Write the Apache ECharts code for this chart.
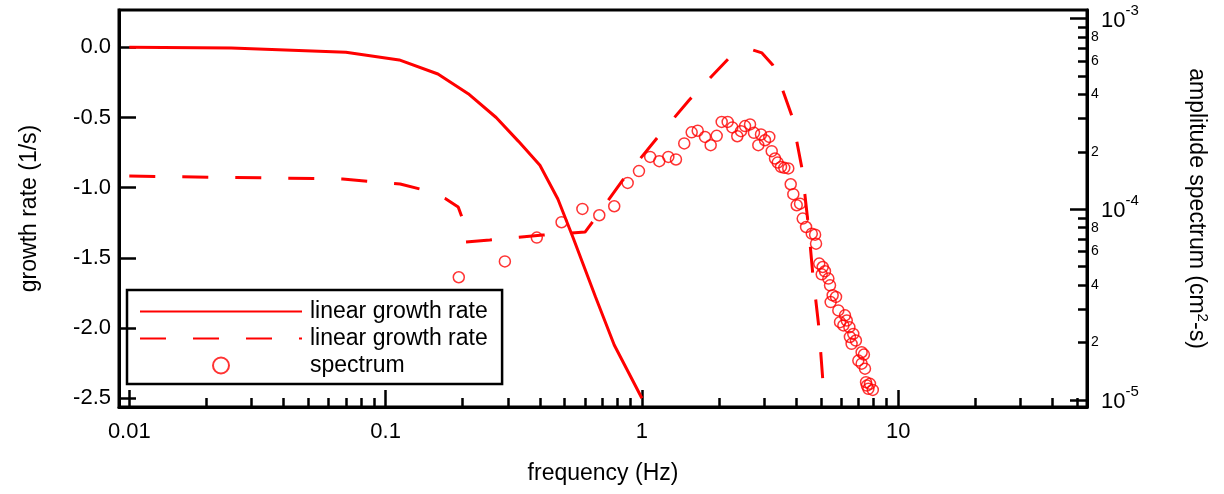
<!DOCTYPE html>
<html>
<head>
<meta charset="utf-8">
<script src="https://cdn.jsdelivr.net/npm/echarts@6/dist/echarts.min.js"></script>
<style>
  html, body { margin: 0; padding: 0; background: #fff; }
  #chart { width: 1224px; height: 494px; }
</style>
</head>
<body>
<div id="chart"></div>
<script>
// solid curve: linear growth rate (1/s) vs frequency (Hz)
const growthFreq = [0.01, 0.025, 0.07, 0.113, 0.16, 0.21, 0.27, 0.33, 0.40, 0.47, 0.54, 0.66, 0.78, 1.0];
const growthRate = [0.0, -0.005, -0.035, -0.09, -0.19, -0.33, -0.5, -0.67, -0.84, -1.08, -1.36, -1.78, -2.12, -2.5];

// dashed curve
const dashFreq = [0.01, 0.068, 0.114, 0.136, 0.172, 0.192, 0.199, 0.204, 0.255, 0.411, 0.60, 0.638, 0.843, 1.146, 1.53, 2.17, 2.71, 2.94, 3.24, 3.55, 3.85, 4.21, 4.48, 4.64, 4.90, 5.08];
const dashRate = [-0.917, -0.938, -0.974, -1.009, -1.08, -1.137, -1.216, -1.387, -1.372, -1.337, -1.316, -1.25, -0.945, -0.646, -0.375, -0.083, -0.019, -0.04, -0.126, -0.31, -0.49, -0.86, -1.30, -1.61, -1.99, -2.37];

// spectrum points (right axis, cm^2-s)
const specFreq = [0.193, 0.292, 0.389, 0.486, 0.586, 0.682, 0.78, 0.88, 0.974, 1.077, 1.169, 1.268, 1.358, 1.463, 1.564, 1.651,
  1.763, 1.855, 1.958, 2.048, 2.161, 2.253, 2.356, 2.436, 2.526, 2.642, 2.737, 2.846, 2.915, 3.022, 3.141, 3.21, 3.306, 3.387,
  3.489, 3.594, 3.725, 3.807, 3.897, 4.018, 4.14, 4.24, 4.37, 4.60, 4.74, 4.78, 4.92, 5.075, 5.18, 5.03, 5.34, 5.42, 5.55, 5.72,
  5.45, 5.84, 6.20, 5.93, 6.30, 6.11, 6.45, 6.68, 6.48, 6.84, 6.58, 7.20, 7.35, 6.99, 7.20, 7.42, 7.49, 7.76, 7.65, 7.96, 7.55];
const specAmp = [4.40e-5, 5.33e-5, 7.10e-5, 8.55e-5, 1.004e-4, 9.3e-5, 1.037e-4, 1.374e-4, 1.585e-4, 1.88e-4, 1.786e-4, 1.88e-4, 1.824e-4, 2.214e-4, 2.53e-4, 2.58e-4,
  2.395e-4, 2.168e-4, 2.427e-4, 2.87e-4, 2.87e-4, 2.685e-4, 2.415e-4, 2.567e-4, 2.73e-4, 2.785e-4, 2.515e-4, 2.168e-4, 2.466e-4, 2.30e-4, 2.395e-4, 2.016e-4, 1.845e-4, 1.757e-4,
  1.667e-4, 1.648e-4, 1.637e-4, 1.352e-4, 1.20e-4, 1.05e-4, 1.07e-4, 8.93e-5, 8.07e-5, 7.45e-5, 7.36e-5, 6.6e-5, 5.19e-5, 4.98e-5, 4.73e-5, 4.56e-5, 4.33e-5, 3.99e-5, 3.54e-5, 3.47e-5,
  3.26e-5, 2.95e-5, 2.78e-5, 2.56e-5, 2.61e-5, 2.46e-5, 2.41e-5, 2.22e-5, 2.14e-5, 2.05e-5, 1.97e-5, 1.78e-5, 1.73e-5, 1.61e-5, 1.55e-5, 1.46e-5, 1.24e-5, 1.216e-5, 1.145e-5, 1.13e-5, 1.19e-5];

// ticks
const xMajor = [0.01, 0.1, 1, 10];
const yLeftTicks = [0, -0.5, -1.0, -1.5, -2.0, -2.5];
const yRightMajor = [1e-5, 1e-4, 1e-3];
const yRightMinorLabels = [2e-5, 4e-5, 6e-5, 8e-5, 2e-4, 4e-4, 6e-4, 8e-4];

const xMinor = [];
xMajor.forEach(d => { for (let k = 2; k <= 9; k++) xMinor.push(Number((k * d).toPrecision(3))); });
const yRightMinor = [];
[1e-5, 1e-4].forEach(d => { for (let k = 2; k <= 9; k++) yRightMinor.push(Number((k * d).toPrecision(3))); });

const FONT = 'Liberation Sans, Arial, Helvetica, sans-serif';
const RED = '#ff0000';

const chart = echarts.init(document.getElementById('chart'), null, { renderer: 'canvas' });

const xMin = 0.009117, xMax = 54.53;
const yMin = -2.562, yMax = 0.2657;
const rMin = 9.19e-6, rMax = 1.108e-3;

const option = {
  animation: false,
  backgroundColor: '#fff',
  textStyle: { fontFamily: FONT, color: '#000' },
  grid: {
    left: 119, right: 137, top: 10, bottom: 87,
    show: true, borderColor: '#000', borderWidth: 3, backgroundColor: 'transparent'
  },
  legend: {
    orient: 'vertical',
    left: 127, top: 290,
    borderColor: '#000', borderWidth: 2.5,
    padding: [10, 8, 7, 12],
    itemWidth: 162, itemHeight: 16, itemGap: 4,
    textStyle: { fontFamily: FONT, fontSize: 23, color: '#000', padding: [0, 0, 0, 3] },
    data: [
      { name: 'linear growth rate', itemStyle: { opacity: 0 } },
      { name: 'linear growth rate ', itemStyle: { opacity: 0 } },
      { name: 'spectrum' }
    ]
  },
  xAxis: [
    {
      type: 'log', min: xMin, max: xMax, position: 'bottom',
      name: 'frequency (Hz)', nameLocation: 'middle', nameGap: 55,
      nameTextStyle: { fontFamily: FONT, fontSize: 23, color: '#000' },
      axisLine: { show: true, onZero: false, lineStyle: { color: '#000', width: 3 } },
      axisTick: { show: true, inside: true, length: 17, customValues: xMajor, lineStyle: { color: '#000', width: 2.5 } },
      axisLabel: { show: true, customValues: xMajor, margin: 14, fontFamily: FONT, fontSize: 22, color: '#000',
        formatter: v => String(v) },
      splitLine: { show: false }
    },
    {
      type: 'log', min: xMin, max: xMax, position: 'bottom',
      axisLine: { show: false, onZero: false },
      axisTick: { show: true, inside: true, length: 9, customValues: xMinor, lineStyle: { color: '#000', width: 2.5 } },
      axisLabel: { show: false },
      splitLine: { show: false }
    }
  ],
  yAxis: [
    {
      type: 'value', min: yMin, max: yMax, position: 'left',
      name: 'growth rate (1/s)', nameLocation: 'middle', nameGap: 78, nameRotate: 90,
      nameTextStyle: { fontFamily: FONT, fontSize: 23, color: '#000' },
      axisLine: { show: true, onZero: false, lineStyle: { color: '#000', width: 3 } },
      axisTick: { show: true, inside: true, length: 17, customValues: yLeftTicks, lineStyle: { color: '#000', width: 2.5 } },
      axisLabel: { show: true, customValues: yLeftTicks, margin: 8, fontFamily: FONT, fontSize: 22, color: '#000',
        formatter: v => v.toFixed(1) },
      splitLine: { show: false }
    },
    {
      type: 'log', min: rMin, max: rMax, position: 'right',
      name: 'amplitude spectrum (cm{sup|2}-s)', nameLocation: 'middle', nameGap: 96, nameRotate: -90,
      nameTextStyle: { fontFamily: FONT, fontSize: 23, color: '#000',
        rich: { sup: { fontFamily: FONT, fontSize: 15, color: '#000', padding: [0, 0, 12, 0] } } },
      axisLine: { show: true, onZero: false, lineStyle: { color: '#000', width: 3 } },
      axisTick: { show: true, inside: true, length: 17, customValues: yRightMajor, lineStyle: { color: '#000', width: 2.5 } },
      axisLabel: {
        show: true, customValues: yRightMajor, margin: 14,
        formatter: v => '{b|10}{s|' + Math.round(Math.log10(v)) + '}',
        rich: {
          b: { fontFamily: FONT, fontSize: 22, color: '#000', padding: [4, 0, 0, 0] },
          s: { fontFamily: FONT, fontSize: 15, color: '#000', padding: [0, 0, 16, 0] }
        }
      },
      splitLine: { show: false }
    },
    {
      type: 'log', min: rMin, max: rMax, position: 'right',
      axisLine: { show: false, onZero: false },
      axisTick: { show: true, inside: true, length: 9, customValues: yRightMinor, lineStyle: { color: '#000', width: 2.5 } },
      axisLabel: {
        show: true, customValues: yRightMinorLabels, margin: 4, fontFamily: FONT, fontSize: 14, color: '#000',
        formatter: v => String(Math.round(v / Math.pow(10, Math.floor(Math.log10(v) + 1e-9))))
      },
      splitLine: { show: false }
    }
  ],
  series: [
    {
      name: 'linear growth rate', type: 'line', xAxisIndex: 0, yAxisIndex: 0,
      symbol: 'none', showSymbol: false,
      lineStyle: { color: RED, width: 3 },
      itemStyle: { color: RED },
      data: growthFreq.map((f, i) => [f, growthRate[i]])
    },
    {
      name: 'linear growth rate ', type: 'line', xAxisIndex: 0, yAxisIndex: 0,
      symbol: 'none', showSymbol: false,
      lineStyle: { color: RED, width: 3, type: [26, 27] },
      itemStyle: { color: RED },
      data: dashFreq.map((f, i) => [f, dashRate[i]])
    },
    {
      name: 'spectrum', type: 'scatter', xAxisIndex: 0, yAxisIndex: 1,
      symbol: 'circle', symbolSize: 11,
      itemStyle: { color: 'rgba(255,255,255,0)', borderColor: RED, borderWidth: 1.5 },
      data: specFreq.map((f, i) => [f, specAmp[i]])
    }
  ]
};

chart.setOption(option);
window.addEventListener('resize', () => { chart.resize(); });
</script>
</body>
</html>
